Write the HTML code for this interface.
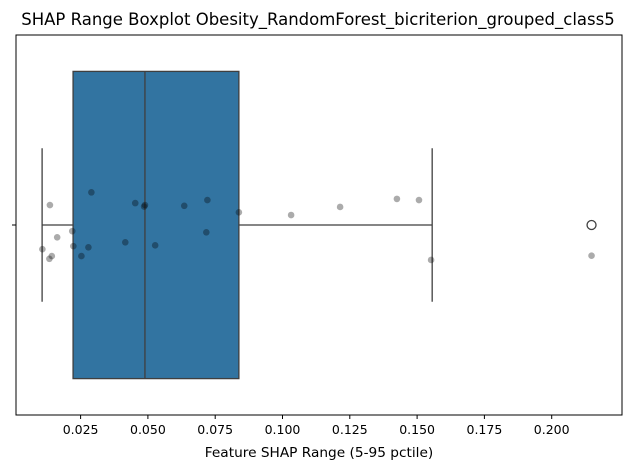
<!DOCTYPE html>
<html><head><meta charset="utf-8"><style>
body{margin:0;background:#fff;font-family:"Liberation Sans","DejaVu Sans",sans-serif}
svg text{font-family:"DejaVu Sans","Liberation Sans",sans-serif}
</style></head><body>
<svg id="c" width="630" height="470" xmlns="http://www.w3.org/2000/svg"></svg>
<script>
const xTicks=[0.025,0.05,0.075,0.1,0.125,0.15,0.175,0.2];
const tickLabels=["0.025","0.050","0.075","0.100","0.125","0.150","0.175","0.200"];
const boxStats=[0.0107,0.0222,0.0489,0.0838,0.1556];
const outliers=[0.2148];
const pointValues=[0.0290,0.0136,0.0453,0.0489,0.0486,0.0635,0.0721,0.0838,0.0219,0.0163,0.0108,0.0223,0.0279,0.0416,0.0527,0.0717,0.0253,0.0143,0.0134,0.1032,0.1214,0.1425,0.1507,0.1552,0.2148];
const pointJitter=[-0.085,-0.052,-0.057,-0.052,-0.048,-0.050,-0.065,-0.033,0.016,0.032,0.063,0.055,0.058,0.045,0.053,0.019,0.081,0.081,0.088,-0.026,-0.047,-0.068,-0.065,0.091,0.080];
const svg=document.getElementById('c');const NS='http://www.w3.org/2000/svg';
const L=16,R=622,T=35,B=415,yc=225,cat=384;
const X=v=>80.6+(v-0.025)*2692;
const Y=j=>yc+j*cat;
function mk(t,a,p){const e=document.createElementNS(NS,t);for(const k in a)e.setAttribute(k,a[k]);(p||svg).appendChild(e);return e;}
let t=mk('text',{x:318,y:25,'text-anchor':'middle','font-size':16.5,fill:'#000'});t.textContent='SHAP Range Boxplot Obesity_RandomForest_bicriterion_grouped_class5';

const [wl,q1,md,q3,wh]=boxStats;
let g=mk('g',{});
mk('line',{x1:X(wl),x2:X(q1),y1:yc,y2:yc,stroke:'#3f3f3f','stroke-width':1.3},g);
mk('line',{x1:X(q3),x2:X(wh),y1:yc,y2:yc,stroke:'#3f3f3f','stroke-width':1.3},g);
mk('line',{x1:X(wl),x2:X(wl),y1:Y(-0.2),y2:Y(0.2),stroke:'#3f3f3f','stroke-width':1.3},g);
mk('line',{x1:X(wh),x2:X(wh),y1:Y(-0.2),y2:Y(0.2),stroke:'#3f3f3f','stroke-width':1.3},g);
let bx=mk('rect',{x:X(q1),y:Y(-0.4),width:X(q3)-X(q1),height:0.8*cat,fill:'#3274a1',stroke:'#3f3f3f','stroke-width':1.3},g);

mk('line',{x1:X(md),x2:X(md),y1:Y(-0.4),y2:Y(0.4),stroke:'#3f3f3f','stroke-width':1.3},g);
outliers.forEach(v=>{const o=mk('circle',{cx:X(v),cy:yc,r:4.5,fill:'none',stroke:'#3f3f3f','stroke-width':1.3},g);
});
pointValues.forEach((v,i)=>{const p=mk('circle',{cx:X(v),cy:Y(pointJitter[i]),r:3.3,fill:'rgba(0,0,0,0.33)'});
});
let f=mk('rect',{x:L,y:T,width:R-L,height:B-T,fill:'none',stroke:'#000','stroke-width':1});

mk('line',{x1:L-4,x2:L,y1:yc,y2:yc,stroke:'#000'});
xTicks.forEach((v,i)=>{mk('line',{x1:X(v),x2:X(v),y1:B,y2:B+4,stroke:'#000'});
const tl=mk('text',{x:X(v),y:B+19,'text-anchor':'middle','font-size':12.5,fill:'#000'});tl.textContent=tickLabels[i];
});
const xt=mk('text',{x:(L+R)/2,y:B+42,'text-anchor':'middle','font-size':13.7,fill:'#000'});xt.textContent='Feature SHAP Range (5-95 pctile)';

</script>
</body></html>
